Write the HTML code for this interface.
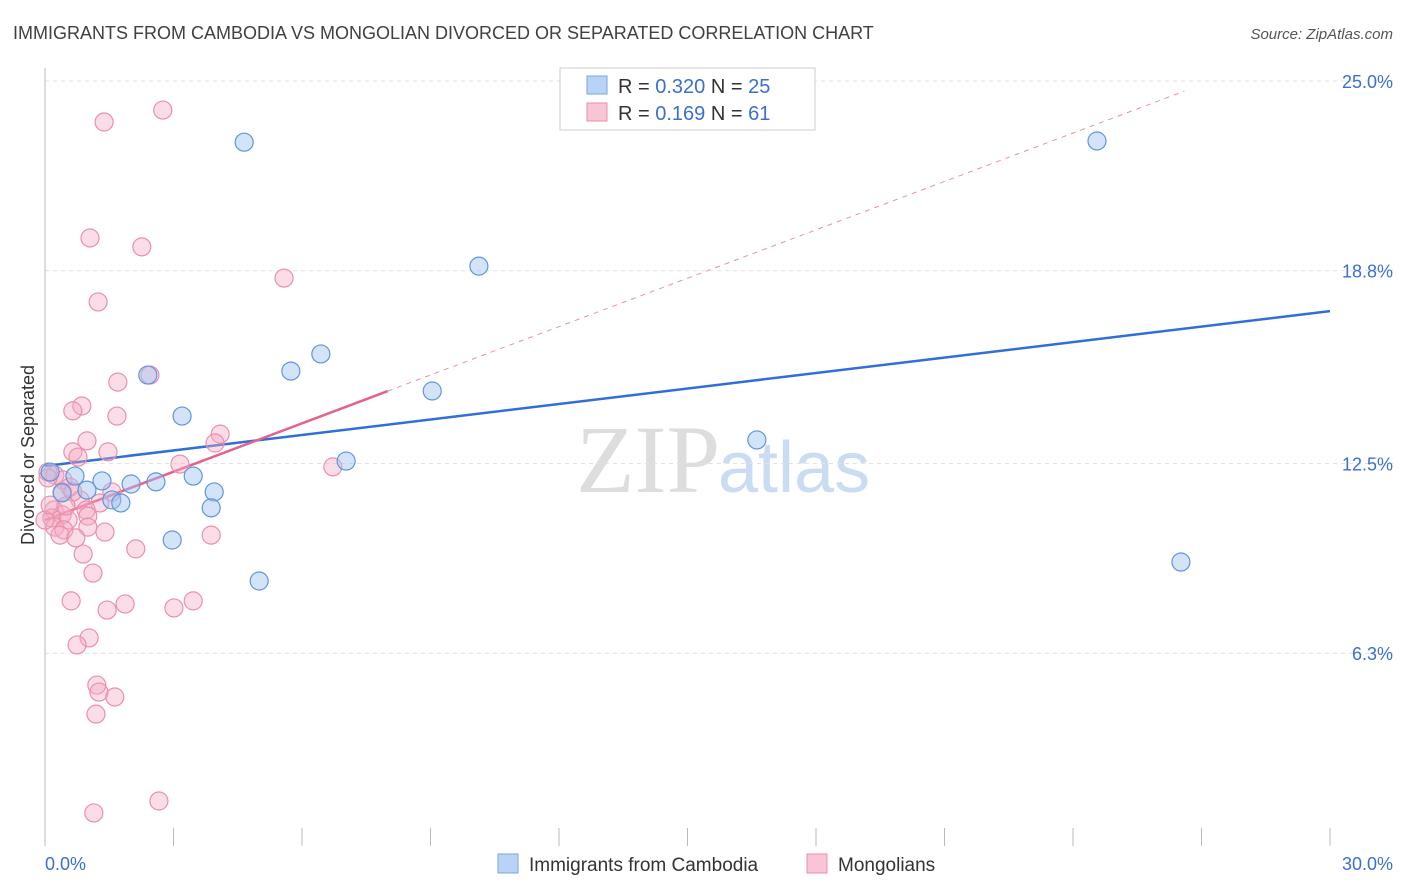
<!DOCTYPE html>
<html><head><meta charset="utf-8"><style>
body{margin:0;background:#fff;font-family:"Liberation Sans",sans-serif;}
svg{display:block}
</style></head><body>
<svg width="1406" height="892" id="chart">
<text x="13" y="39" font-size="18" fill="#404040">IMMIGRANTS FROM CAMBODIA VS MONGOLIAN DIVORCED OR SEPARATED CORRELATION CHART</text>
<text x="1393" y="39" font-size="15" fill="#555" font-style="italic" text-anchor="end">Source: ZipAtlas.com</text>
<text x="34" y="455" font-size="18" fill="#333" transform="rotate(-90 34 455)" text-anchor="middle">Divorced or Separated</text>
<text x="720" y="492" font-size="96" fill="#ddd" font-family="Liberation Serif,serif" text-anchor="end">ZIP</text>
<text x="718" y="492" font-size="72" fill="#c9dcf2">atlas</text>
<g id="grid"></g>
<line x1="45" y1="68" x2="45" y2="846" stroke="#bbb"/>
<g id="xticks"></g>
<g id="lines"></g>
<g id="pts"></g>
<g>
<rect x="560" y="68" width="255" height="62" fill="#fff" stroke="#ccc"/>
<rect x="587" y="76" width="20" height="18" fill="#b8d3f5" stroke="#7aa6e0"/>
<text x="618" y="93" font-size="20" fill="#333">R = <tspan fill="#3b6fd0">0.320</tspan>   N = <tspan fill="#3b6fd0">25</tspan></text>
<rect x="587" y="103" width="20" height="18" fill="#f9c4d3" stroke="#eb8fab"/>
<text x="618" y="120" font-size="20" fill="#333">R =  <tspan fill="#3b6fd0">0.169</tspan>   N =  <tspan fill="#3b6fd0">61</tspan></text>
</g>
<g>
<rect x="498" y="854" width="20" height="19" fill="#b8d3f5" stroke="#7aa6e0"/>
<text x="529" y="871" font-size="19" fill="#333">Immigrants from Cambodia</text>
<rect x="807" y="854" width="20" height="19" fill="#f9c4d3" stroke="#eb8fab"/>
<text x="838" y="871" font-size="19" fill="#333">Mongolians</text>
</g>
<text x="45" y="870" font-size="18" fill="#3b6fd0">0.0%</text>
<text x="1393" y="870" font-size="18" fill="#3b6fd0" text-anchor="end">30.0%</text>
</svg>
<script>
const yTicks=[25.0,18.8,12.5,6.3];
const yTickLabels=["25.0%","18.8%","12.5%","6.3%"];
const blueX=[4.65,24.56,10.13,6.44,5.74,2.40,9.04,3.20,16.62,7.03,0.12,0.70,3.46,1.33,2.01,2.59,0.98,0.40,3.95,1.56,1.77,3.88,2.97,5.00,26.52];
const blueY=[23.0,23.04,18.95,16.08,15.52,15.39,14.87,14.05,13.27,12.58,12.22,12.09,12.09,11.93,11.83,11.90,11.63,11.54,11.57,11.31,11.21,11.05,10.0,8.66,9.28];
const pinkX=[2.75,1.38,1.05,2.26,5.58,1.24,2.45,1.70,0.86,0.65,1.68,4.09,3.97,0.98,0.65,1.47,0.77,3.15,6.72,0.23,0.42,0.58,0.40,1.56,0.82,1.28,0.21,0.96,0.40,0.16,1.00,0.54,0.23,0.44,1.00,1.40,0.35,0.72,3.88,0.89,2.12,1.12,0.61,1.87,1.45,3.01,3.46,1.03,0.75,1.21,1.26,1.63,1.19,2.66,1.14,0.07,0.07,0.65,0,0.12,0.49];
const pinkY=[24.05,23.66,19.87,19.58,18.56,17.78,15.39,15.16,14.38,14.22,14.05,13.46,13.17,13.24,12.88,12.88,12.71,12.48,12.39,12.12,11.96,11.73,11.57,11.57,11.31,11.21,10.98,10.98,10.82,10.72,10.78,10.65,10.42,10.33,10.42,10.26,10.16,10.07,10.16,9.54,9.71,8.92,8.01,7.91,7.71,7.78,8.01,6.80,6.57,5.26,5.03,4.87,4.31,1.47,1.08,12.22,12.03,11.57,10.65,11.14,11.11];
const blueTrend=[12.42,17.48]; // at x=0 and x=30
const pinkTrend=[10.65,0.527]; // intercept, slope
const NS="http://www.w3.org/2000/svg";
const sx=v=>45+v*(1285/30), sy=v=>846-v*30.6;
function mk(tag,attrs,parent){const e=document.createElementNS(NS,tag);for(const k in attrs)e.setAttribute(k,attrs[k]);document.getElementById(parent).appendChild(e);return e;}
yTicks.forEach((t,i)=>{
 const l=mk('line',{x1:45,x2:1393,y1:sy(t),y2:sy(t),stroke:'#e2e2e2','stroke-dasharray':'4 4'},'grid');
 
 
 const tx=mk('text',{x:1393,y:sy(t)+7,'font-size':18,fill:'#3b6fd0','text-anchor':'end'},'grid');
 tx.textContent=yTickLabels[i];
 
 
});
for(let i=0;i<=10;i++){
 const l=mk('line',{x1:sx(i*3),x2:sx(i*3),y1:828,y2:846,stroke:'#bbb'},'xticks');
 
 
}
let l=mk('line',{x1:sx(0),y1:sy(blueTrend[0]),x2:sx(30),y2:sy(blueTrend[1]),stroke:'#2f6fd6','stroke-width':2.5},'lines');


l=mk('line',{x1:sx(8),y1:sy(pinkTrend[0]+8*pinkTrend[1]),x2:sx(26.6),y2:sy(pinkTrend[0]+26.6*pinkTrend[1]),stroke:'#eb8fab','stroke-width':1,'stroke-dasharray':'5 5'},'lines');


l=mk('line',{x1:sx(0),y1:sy(pinkTrend[0]),x2:sx(8),y2:sy(pinkTrend[0]+8*pinkTrend[1]),stroke:'#e5628a','stroke-width':2.5},'lines');


pinkX.forEach((x,i)=>{
 const c=mk('circle',{cx:sx(x),cy:sy(pinkY[i]),r:9,fill:'rgba(245,170,195,0.4)',stroke:'#eb8fab','stroke-width':1.2},'pts');
 
 
});
blueX.forEach((x,i)=>{
 const c=mk('circle',{cx:sx(x),cy:sy(blueY[i]),r:9,fill:'rgba(160,195,240,0.45)',stroke:'#5f95e0','stroke-width':1.2},'pts');
 
 
});
</script>
</body></html>
